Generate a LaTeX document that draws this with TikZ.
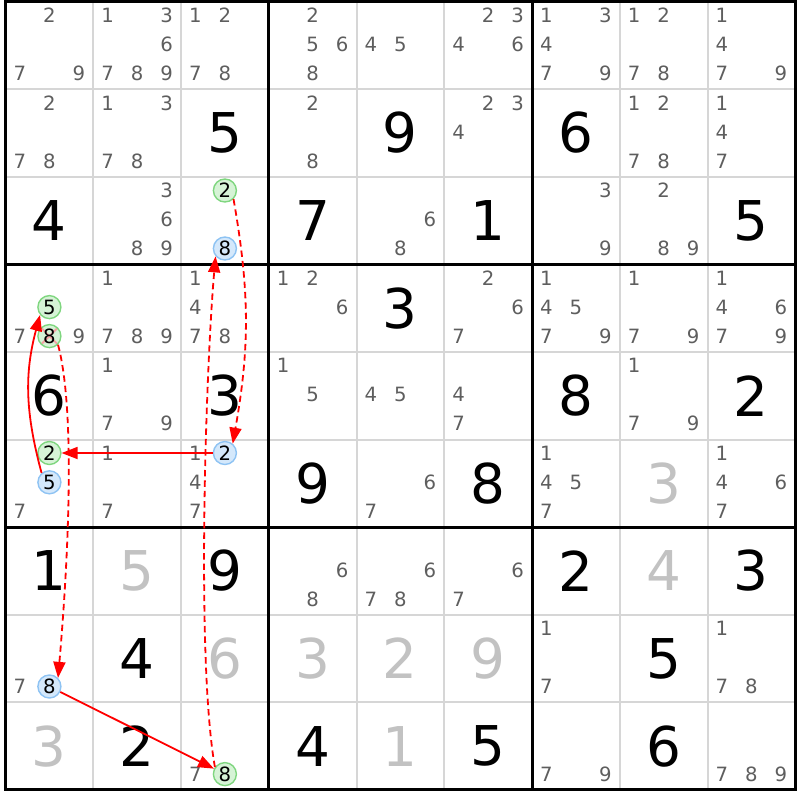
\documentclass[tikz,border=0pt]{standalone}
\usepackage{fontspec}
\setmainfont{DejaVu Sans}
\usetikzlibrary{arrows.meta}
\definecolor{candgray}{HTML}{5E5E5E}
\definecolor{solvedgray}{HTML}{C2C2C2}
\definecolor{gridgray}{HTML}{D6D6D6}
\definecolor{onedge}{HTML}{7FD67F}
\definecolor{onfill}{HTML}{D6F3D6}
\definecolor{offedge}{HTML}{8EC3F3}
\definecolor{offfill}{HTML}{D4E8FB}
\definecolor{xpink}{HTML}{F2A2A2}
\newcommand\givenfont{\fontsize{39}{39}\selectfont}
\newcommand\candfont{\fontsize{14}{14}\selectfont}

\begin{document}
\begin{tikzpicture}[x=0.25mm,y=-0.25mm,
	thinline/.style={gridgray,line width=0.5mm},
	thickline/.style={black,line width=0.75mm,line cap=rect},
	candd/.style={font=\candfont,text=candgray,inner sep=0},
	given/.style={font=\givenfont,inner sep=0},
	solved/.style={given,text=solvedgray},
	gcand/.style={circle,draw=onedge,fill=onfill,line width=0.35mm,minimum size=5.75mm,inner sep=0,font=\candfont},
	bcand/.style={gcand,draw=offedge,fill=offfill},
	crossed/.style={path picture={\draw[xpink,line width=0.45mm]
		(path picture bounding box.north west) -- (path picture bounding box.south east)
		(path picture bounding box.north east) -- (path picture bounding box.south west);}},
	stronglink/.style={red,line width=0.45mm,-{Triangle[length=4mm,width=3mm]}},
	weaklink/.style={stronglink,dash pattern=on 1.6mm off 1mm}]
	\useasboundingbox (0,0) rectangle (800,800);
	\foreach \i in {1,2,4,5,7,8} {
		\draw[thinline] ({5.5+87.75*\i},1.5) -- ({5.5+87.75*\i},789.9);
		\draw[thinline] (5.5,{1.5+87.6*\i}) -- (795.25,{1.5+87.6*\i});
	}
	\foreach \i in {0,3,6,9} {
		\draw[thickline] ({5.5+87.75*\i},1.5) -- ({5.5+87.75*\i},789.9);
		\draw[thickline] (5.5,{1.5+87.6*\i}) -- (795.25,{1.5+87.6*\i});
	}
	\foreach \r/\c/\v in {1/2/5,1/4/9,1/6/6,2/0/4,2/3/7,2/5/1,2/8/5,3/4/3,4/0/6,4/2/3,4/6/8,4/8/2,
		5/3/9,5/5/8,6/0/1,6/2/9,6/6/2,6/8/3,7/1/4,7/7/5,8/1/2,8/3/4,8/5/5,8/7/6}
		\node[given] at ({5.5+87.75*(\c+0.5)},{1.5+87.6*(\r+0.5)}) {\v};
	\foreach \r/\c/\v in {5/7/3,6/1/5,6/7/4,7/2/6,7/3/3,7/4/2,7/5/9,8/0/3,8/4/1}
		\node[solved] at ({5.5+87.75*(\c+0.5)},{1.5+87.6*(\r+0.5)}) {\v};
	\foreach \r/\c/\ds in {0/0/{2,7,9},0/1/{1,3,6,7,8,9},0/2/{1,2,7,8},0/3/{2,5,6,8},0/4/{4,5},
		0/5/{2,3,4,6},0/6/{1,3,4,7,9},0/7/{1,2,7,8},0/8/{1,4,7,9},
		1/0/{2,7,8},1/1/{1,3,7,8},1/3/{2,8},1/5/{2,3,4},1/7/{1,2,7,8},1/8/{1,4,7},
		2/1/{3,6,8,9},2/4/{6,8},2/6/{3,9},2/7/{2,8,9},
		3/0/{7,9},3/1/{1,7,8,9},3/2/{1,4,7,8},3/3/{1,2,6},3/5/{2,6,7},3/6/{1,4,5,7,9},3/7/{1,7,9},3/8/{1,4,6,7,9},
		4/1/{1,7,9},4/3/{1,5},4/4/{4,5},4/5/{4,7},4/7/{1,7,9},
		5/0/{7},5/1/{1,7},5/2/{1,4,7},5/4/{6,7},5/6/{1,4,5,7},5/8/{1,4,6,7},
		6/3/{6,8},6/4/{6,7,8},6/5/{6,7},
		7/0/{7},7/6/{1,7},7/8/{1,7,8},
		8/2/{7},8/6/{7,9},8/8/{7,8,9}}
	\foreach \d in \ds {
		\pgfmathsetmacro\px{5.5+87.75*(\c+0.5)+29.5*(mod(\d-1,3)-1)}
		\pgfmathsetmacro\py{1.5+87.6*(\r+0.5)+29*(int((\d-1)/3)-1)-1}
		\node[candd] at (\px,\py) {\d};
	}
	\node[gcand] (r2c2_2) at (224.9,190.5) {2};
	\node[bcand] (r2c2_8) at (224.9,248.5) {8};
	\node[gcand] (r3c0_5) at (49.4,307.1) {5};
	\node[gcand,crossed] (r3c0_8) at (49.4,336.1) {8};
	\node[gcand] (r5c0_2) at (49.4,453) {2};
	\node[bcand] (r5c0_5) at (49.4,482.3) {5};
	\node[bcand] (r5c2_2) at (224.9,453) {2};
	\node[bcand] (r7c0_8) at (49.4,686.5) {8};
	\node[gcand] (r8c2_8) at (224.9,774.1) {8};
	\path[stronglink]
	(r5c2_2) edge (r5c0_2)
	(r5c0_5.130) edge[out=105,in=-105] (r3c0_5.220)
	(r7c0_8) edge (r8c2_8);
	\path[weaklink]
	(r2c2_2.-45) edge[out=-80,in=80] (r5c2_2.50)
	(r3c0_8.-45) edge[out=-75,in=85,looseness=0.6] (r7c0_8.45)
	(r8c2_8.145) edge[out=100,in=-95,looseness=0.55] (r2c2_8.220);
\end{tikzpicture}
\end{document}
